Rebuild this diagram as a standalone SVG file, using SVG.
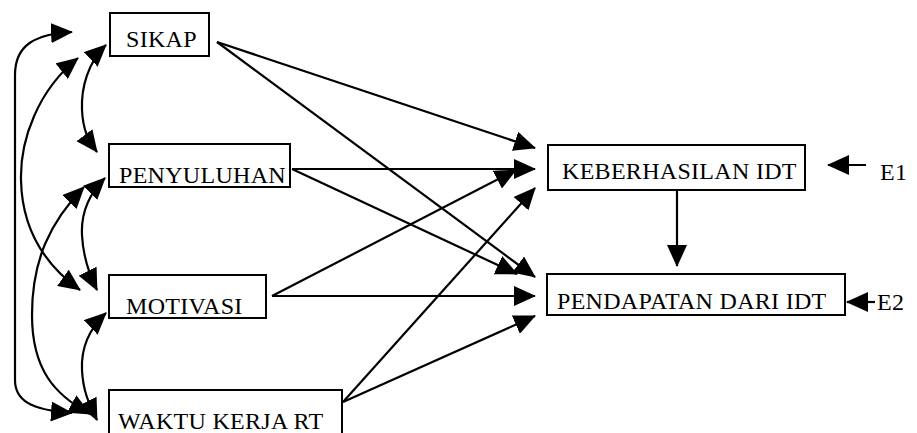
<svg xmlns="http://www.w3.org/2000/svg" width="917" height="433" viewBox="0 0 917 433">
<style>
  .box { fill: #fff; stroke: #000; stroke-width: 2; }
  .lbl { font-family: "Liberation Serif", "Times New Roman", serif; font-size: 24px; letter-spacing: 0.3px; fill: #000; }
  .c { fill: none; stroke: #000; stroke-width: 2.2; marker-end: url(#ah); }
  .d { fill: none; stroke: #000; stroke-width: 2.2; marker-start: url(#ah); marker-end: url(#ah); }
</style>
<defs>
  <marker id="ah" viewBox="0 0 22 20" markerWidth="22" markerHeight="20" refX="21" refY="10" orient="auto-start-reverse" markerUnits="userSpaceOnUse">
    <path d="M0,0 L22,10 L0,20 z" fill="#000"/>
  </marker>
</defs>
<rect width="917" height="433" fill="#fff"/>
<g id="connectors">
  <path class="c" d="M217,42 L535,148"/>
  <path class="c" d="M217,42 L535,277"/>
  <path class="c" d="M292,169 L535,169"/>
  <path class="c" d="M292,169 L517,274"/>
  <path class="c" d="M272,296 L516,170"/>
  <path class="c" d="M272,296 L535,296"/>
  <path class="c" d="M343,402 L535,188"/>
  <path class="c" d="M343,402 L535,316"/>
  <path class="c" d="M677,190 L677,266"/>
  <path class="c" d="M866,165 L828,165"/>
  <path class="c" d="M875,302 L847,302"/>
  <path class="d" d="M72,32 C35,34 15,45 15,75 L15,380 C15,400 30,410 72,413"/>
  <path class="d" d="M78,58 C38,90 20,140 21,180 C22,230 45,265 80,290"/>
  <path class="d" d="M84,187 C50,222 32,260 32,315 C32,370 55,395 90,414"/>
  <path class="d" d="M106,45 C88,62 81,88 82,110 C83,130 88,140 97,152"/>
  <path class="d" d="M105,178 C88,195 81,215 82,235 C83,255 88,272 97,290"/>
  <path class="d" d="M106,313 C88,330 81,350 82,370 C83,390 88,402 97,420"/>
</g>
<g id="sikap">
  <rect class="box" x="110" y="13" width="99" height="43"/>
  <text class="lbl" x="126" y="47">SIKAP</text>
</g>
<g id="penyuluhan">
  <rect class="box" x="109" y="144" width="181" height="43"/>
  <text class="lbl" x="119" y="183">PENYULUHAN</text>
</g>
<g id="motivasi">
  <rect class="box" x="109" y="275" width="157" height="43"/>
  <text class="lbl" x="126" y="314">MOTIVASI</text>
</g>
<g id="waktu">
  <rect class="box" x="109" y="390" width="233" height="60"/>
  <text class="lbl" x="118" y="429">WAKTU KERJA RT</text>
</g>
<g id="keberhasilan">
  <rect class="box" x="548" y="145" width="257" height="45"/>
  <text class="lbl" x="562" y="179">KEBERHASILAN IDT</text>
</g>
<g id="pendapatan">
  <rect class="box" x="547" y="274" width="298" height="41"/>
  <text class="lbl" x="557" y="309">PENDAPATAN DARI IDT</text>
</g>
<g id="e1">
  <text class="lbl" x="880" y="180">E1</text>
</g>
<g id="e2">
  <text class="lbl" x="877" y="310">E2</text>
</g>
</svg>
